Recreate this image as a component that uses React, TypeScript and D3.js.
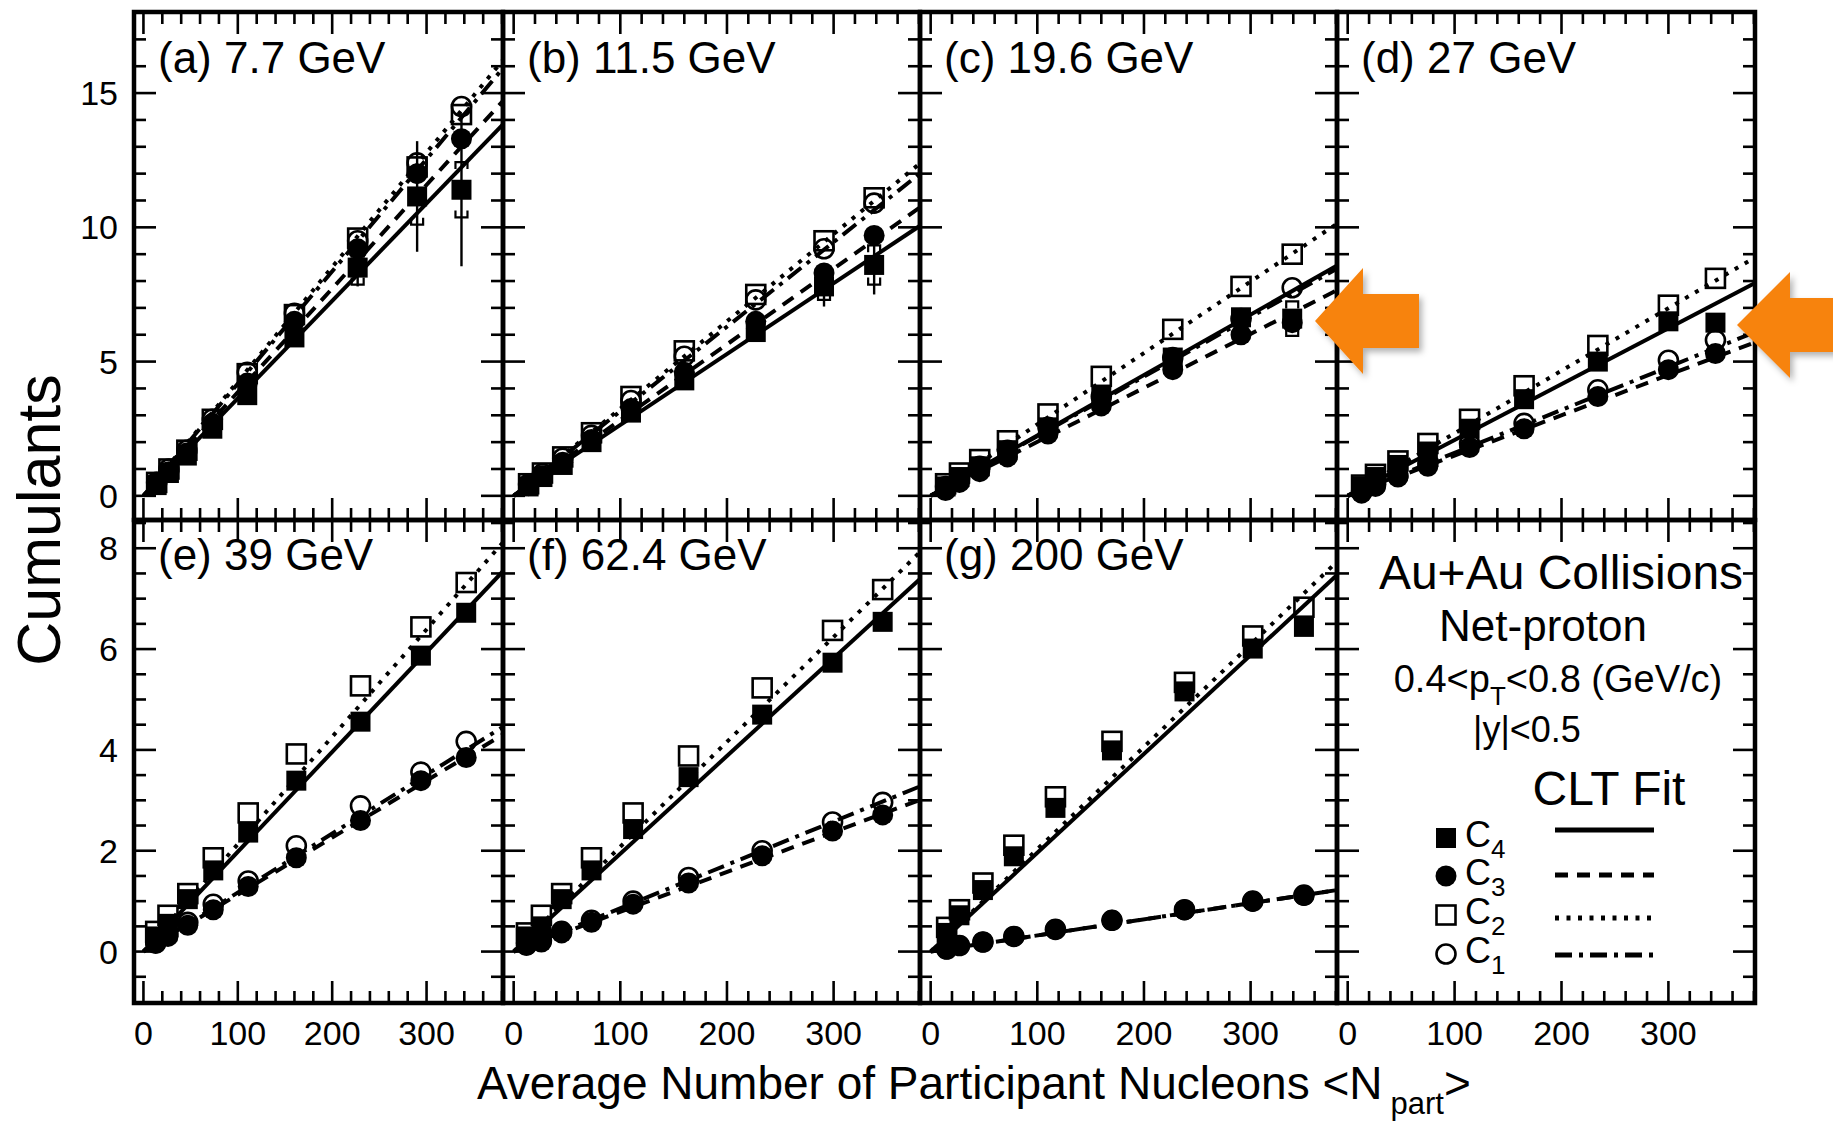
import React from "react";
import * as d3 from "d3";

const FONT = "'Liberation Sans', Arial, Helvetica, sans-serif";
const W = 1833;
const H = 1124;

// ---------------- data ----------------
const panelLabels = ["(a) 7.7 GeV", "(b) 11.5 GeV", "(c) 19.6 GeV", "(d) 27 GeV", "(e) 39 GeV", "(f) 62.4 GeV", "(g) 200 GeV"];

const npartA = [14, 27, 46, 73, 110, 160, 227, 290, 337];
const c4A = [0.4, 0.85, 1.5, 2.5, 3.75, 5.9, 8.5, 11.15, 11.4];
const c3A = [0.45, 0.9, 1.6, 2.7, 4.2, 6.5, 9.2, 12.0, 13.3];
const c2A = [0.5, 1.0, 1.7, 2.85, 4.55, 6.75, 9.6, 12.25, 14.2];
const c1A = [0.5, 1.0, 1.7, 2.85, 4.6, 6.8, 9.5, 12.4, 14.5];
const fitA = [0.0418, 0.0426, 0.0386, 0.0363]; // C1, C2, C3, C4 slopes
const c4ErrA = [0, 0, 0, 0, 0.1, 0.2, 0.7, 2.06, 2.85];
const c4SysA = [0, 0, 0, 0, 0, 0, 0.63, 1.05, 1.03];

const npartB = [14, 27, 46, 73, 110, 160, 227, 291, 338];
const c4B = [0.35, 0.7, 1.15, 2.0, 3.1, 4.3, 6.1, 7.8, 8.6];
const c3B = [0.38, 0.75, 1.25, 2.1, 3.25, 4.6, 6.5, 8.3, 9.7];
const c2B = [0.45, 0.85, 1.45, 2.35, 3.7, 5.4, 7.5, 9.5, 11.1];
const c1B = [0.43, 0.82, 1.4, 2.25, 3.55, 5.2, 7.3, 9.2, 10.9];
const fitB = [0.0315, 0.0325, 0.0282, 0.0264];
const c4ErrB = [0, 0, 0, 0, 0, 0.1, 0.3, 0.75, 1.1];
const c4SysB = [0, 0, 0, 0, 0, 0, 0, 0.5, 0.73];

const npartC = [14, 27, 46, 72, 110, 160, 227, 291, 339];
const c4C = [0.35, 0.7, 1.1, 1.7, 2.55, 3.75, 5.15, 6.65, 6.6];
const c3C = [0.2, 0.5, 0.9, 1.45, 2.3, 3.35, 4.7, 6.0, 6.45];
const c2C = [0.45, 0.85, 1.35, 2.05, 3.05, 4.45, 6.2, 7.8, 9.0];
const c1C = [0.35, 0.65, 1.1, 1.7, 2.55, 3.7, 5.15, 6.6, 7.75];
const fitC = [0.0222, 0.0266, 0.0201, 0.0225];
const c4ErrC = [0, 0, 0, 0, 0, 0, 0, 0, 0.3];
const c4SysC = [0, 0, 0, 0, 0, 0, 0, 0, 0.64];

const npartD = [13, 26, 47, 75, 114, 165, 234, 300, 344];
const c4D = [0.35, 0.7, 1.15, 1.65, 2.5, 3.6, 5.0, 6.5, 6.45];
const c3D = [0.1, 0.35, 0.7, 1.1, 1.8, 2.5, 3.7, 4.7, 5.3];
const c2D = [0.4, 0.8, 1.3, 1.95, 2.85, 4.1, 5.6, 7.1, 8.1];
const c1D = [0.15, 0.4, 0.75, 1.2, 1.95, 2.7, 3.95, 5.05, 5.8];
const fitD = [0.016, 0.0233, 0.015, 0.0208];

const npartE = [13, 26, 47, 74, 111, 162, 230, 294, 342];
const c4E = [0.3, 0.55, 1.04, 1.61, 2.36, 3.39, 4.56, 5.87, 6.72];
const c3E = [0.16, 0.3, 0.52, 0.83, 1.29, 1.86, 2.6, 3.39, 3.85];
const c2E = [0.4, 0.72, 1.15, 1.86, 2.75, 3.92, 5.27, 6.44, 7.32];
const c1E = [0.18, 0.35, 0.58, 0.94, 1.4, 2.1, 2.89, 3.56, 4.17];
const fitE = [0.0117, 0.0213, 0.0113, 0.0198];

const npartF = [12, 26, 45, 73, 112, 164, 233, 299, 346];
const c4F = [0.3, 0.5, 1.04, 1.61, 2.43, 3.46, 4.7, 5.73, 6.54];
const c3F = [0.12, 0.19, 0.37, 0.58, 0.94, 1.36, 1.9, 2.39, 2.71];
const c2F = [0.37, 0.72, 1.15, 1.86, 2.75, 3.88, 5.23, 6.37, 7.18];
const c1F = [0.14, 0.22, 0.4, 0.62, 1.0, 1.47, 2.0, 2.57, 2.96];
const fitF = [0.0086, 0.0208, 0.0079, 0.0194];

const npartG = [15, 27, 49, 78, 117, 170, 238, 302, 350];
const c4G = [0.37, 0.72, 1.22, 1.89, 2.85, 3.99, 5.16, 6.01, 6.44];
const c3G = [0.05, 0.12, 0.19, 0.3, 0.44, 0.62, 0.83, 1.0, 1.11];
const c2G = [0.48, 0.83, 1.36, 2.11, 3.07, 4.17, 5.34, 6.26, 6.83];
const c1G = [0.05, 0.12, 0.19, 0.3, 0.44, 0.62, 0.83, 1.0, 1.12];
const fitG = [0.0032, 0.0203, 0.0032, 0.0196];

const xMajorTicks = [0, 100, 200, 300];
const yTopMajorTicks = [0, 5, 10, 15];
const yBotMajorTicks = [0, 2, 4, 6, 8];
const xTickLabels = ["0", "100", "200", "300"];
const yTopTickLabels = ["15", "10", "5", "0"];
const yBotTickLabels = ["8", "6", "4", "2", "0"];

const legendNames = ["C4", "C3", "C2", "C1"];

// ---------------- layout ----------------
const X_DOMAIN = [-10, 381];
const Y_TOP = [-0.9, 18.02];
const Y_BOT = [-1.02, 8.56];
const COLS = [
  [134, 503],
  [503, 920],
  [920, 1337],
  [1337, 1755],
];
const ROWS = [
  [12, 520],
  [520, 1003],
];

const DASH = { solid: "none", dashed: "13 9", dotted: "4 7.5", dashdot: "17 7 4 7" };
const LINE_STYLE = [DASH.dashdot, DASH.dotted, DASH.dashed, DASH.solid]; // C1..C4

const panels = [
  { label: panelLabels[0], n: npartA, c: [c1A, c2A, c3A, c4A], fit: fitA, err: c4ErrA, sys: c4SysA },
  { label: panelLabels[1], n: npartB, c: [c1B, c2B, c3B, c4B], fit: fitB, err: c4ErrB, sys: c4SysB },
  { label: panelLabels[2], n: npartC, c: [c1C, c2C, c3C, c4C], fit: fitC, err: c4ErrC, sys: c4SysC },
  { label: panelLabels[3], n: npartD, c: [c1D, c2D, c3D, c4D], fit: fitD, err: null, sys: null },
  { label: panelLabels[4], n: npartE, c: [c1E, c2E, c3E, c4E], fit: fitE, err: null, sys: null },
  { label: panelLabels[5], n: npartF, c: [c1F, c2F, c3F, c4F], fit: fitF, err: null, sys: null },
  { label: panelLabels[6], n: npartG, c: [c1G, c2G, c3G, c4G], fit: fitG, err: null, sys: null },
];

function Marker({ kind, x, y }: { kind: number; x: number; y: number }) {
  // kind: 0 C1 open circle, 1 C2 open square, 2 C3 filled circle, 3 C4 filled square
  if (kind === 3) return <rect x={x - 10} y={y - 10} width={20} height={20} fill="#000" />;
  if (kind === 2) return <circle cx={x} cy={y} r={10.5} fill="#000" />;
  if (kind === 1)
    return <rect x={x - 9.5} y={y - 9.5} width={19} height={19} fill="none" stroke="#000" strokeWidth={2.6} />;
  return <circle cx={x} cy={y} r={9.5} fill="none" stroke="#000" strokeWidth={2.6} />;
}

function Frame({ col, row, idx }: { col: number; row: number; idx: number }) {
  const [x0, x1] = COLS[col];
  const [y0, y1] = ROWS[row];
  const xs = d3.scaleLinear().domain(X_DOMAIN).range([x0, x1]);
  const ys = d3.scaleLinear().domain(row === 0 ? Y_TOP : Y_BOT).range([y1, y0]);
  const xMinor = d3.range(0, 381, 20).filter((v) => !xMajorTicks.includes(v));
  const yMajor = row === 0 ? yTopMajorTicks : yBotMajorTicks;
  const yMinor =
    row === 0
      ? d3.range(0, 18.01, 1).filter((v) => !yMajor.includes(v))
      : d3.range(-0.5, 8.51, 0.5).filter((v) => !yMajor.includes(v));
  const MAJ = 22;
  const MIN = 12;
  const ticks: React.ReactNode[] = [];
  const tick = (k: string, xa: number, ya: number, xb: number, yb: number) =>
    ticks.push(<line key={k} x1={xa} y1={ya} x2={xb} y2={yb} stroke="#000" strokeWidth={2.6} />);
  xMajorTicks.forEach((v) => {
    tick(`xb${v}`, xs(v), y1, xs(v), y1 - MAJ);
    tick(`xt${v}`, xs(v), y0, xs(v), y0 + MAJ);
  });
  xMinor.forEach((v) => {
    tick(`xbm${v}`, xs(v), y1, xs(v), y1 - MIN);
    tick(`xtm${v}`, xs(v), y0, xs(v), y0 + MIN);
  });
  yMajor.forEach((v) => {
    tick(`yl${v}`, x0, ys(v), x0 + MAJ, ys(v));
    tick(`yr${v}`, x1, ys(v), x1 - MAJ, ys(v));
  });
  yMinor.forEach((v) => {
    tick(`ylm${v}`, x0, ys(v), x0 + MIN, ys(v));
    tick(`yrm${v}`, x1, ys(v), x1 - MIN, ys(v));
  });
  return (
    <g key={`frame${idx}`}>
      {ticks}
      <rect x={x0} y={y0} width={x1 - x0} height={y1 - y0} fill="none" stroke="#000" strokeWidth={4.5} />
      {row === 1 &&
        xMajorTicks.map((v, i) => (
          <text key={`xl${v}`} x={xs(v)} y={1045} fontSize={34} textAnchor="middle" fontFamily={FONT}>
            {xTickLabels[i]}
          </text>
        ))}
      {col === 0 &&
        (row === 0 ? yTopMajorTicks.slice().reverse() : yBotMajorTicks.slice().reverse()).map((v, i) => (
          <text key={`yl${v}`} x={118} y={ys(v) + 12} fontSize={34} textAnchor="end" fontFamily={FONT}>
            {(row === 0 ? yTopTickLabels : yBotTickLabels)[i]}
          </text>
        ))}
    </g>
  );
}

function Panel({ idx }: { idx: number }) {
  const p = panels[idx];
  const col = idx % 4;
  const row = Math.floor(idx / 4);
  const [x0, x1] = COLS[col];
  const [y0, y1] = ROWS[row];
  const xs = d3.scaleLinear().domain(X_DOMAIN).range([x0, x1]);
  const ys = d3.scaleLinear().domain(row === 0 ? Y_TOP : Y_BOT).range([y1, y0]);
  const line = d3.line<number[]>().x((d) => xs(d[0])).y((d) => ys(d[1]));
  const clipId = `clip${idx}`;
  const order = [3, 2, 1, 0];
  return (
    <g>
      <defs>
        <clipPath id={clipId}>
          <rect x={x0} y={y0} width={x1 - x0} height={y1 - y0} />
        </clipPath>
      </defs>
      <g clipPath={`url(#${clipId})`}>
        {p.fit.map((k, i) => (
          <path
            key={`fit${i}`}
            d={line([
              [0, 0],
              [X_DOMAIN[1] + 5, k * (X_DOMAIN[1] + 5)],
            ]) || ""}
            fill="none"
            stroke="#000"
            strokeWidth={4}
            strokeDasharray={LINE_STYLE[i]}
          />
        ))}
        {p.err &&
          p.n.map((n, j) =>
            p.err![j] > 0 ? (
              <line
                key={`err${j}`}
                x1={xs(n)}
                x2={xs(n)}
                y1={ys(p.c[3][j] - p.err![j])}
                y2={ys(p.c[3][j] + p.err![j])}
                stroke="#000"
                strokeWidth={2.4}
              />
            ) : null
          )}
        {p.sys &&
          p.n.map((n, j) =>
            p.sys![j] > 0 ? (
              <g key={`sys${j}`} fill="none" stroke="#000" strokeWidth={2.2}>
                <path
                  d={`M${xs(n) - 6},${ys(p.c[3][j] - p.sys![j]) - 7} V${ys(p.c[3][j] - p.sys![j])} H${xs(n) + 6} V${
                    ys(p.c[3][j] - p.sys![j]) - 7
                  }`}
                />
                <path
                  d={`M${xs(n) - 6},${ys(p.c[3][j] + p.sys![j]) + 7} V${ys(p.c[3][j] + p.sys![j])} H${xs(n) + 6} V${
                    ys(p.c[3][j] + p.sys![j]) + 7
                  }`}
                />
              </g>
            ) : null
          )}
        {order.map((k) =>
          p.n.map((n, j) => <Marker key={`m${k}-${j}`} kind={k} x={xs(n)} y={ys(p.c[k][j])} />)
        )}
      </g>
      <text x={x0 + 24} y={y0 + (row === 0 ? 61 : 50)} fontSize={44} fontFamily={FONT}>
        {p.label}
      </text>
    </g>
  );
}

function Legend() {
  const markerX = 1446;
  const labelX = 1465;
  const lineX0 = 1555;
  const lineX1 = 1654;
  const markerY = [838, 876, 915, 954];
  const lineY = [830, 875, 918, 955];
  const kinds = [3, 2, 1, 0];
  const styles = [DASH.solid, DASH.dashed, DASH.dotted, DASH.dashdot];
  return (
    <g fontFamily={FONT}>
      <text x={1561} y={589} fontSize={48} textAnchor="middle">
        Au+Au Collisions
      </text>
      <text x={1543} y={641} fontSize={44} textAnchor="middle">
        Net-proton
      </text>
      <text x={1558} y={692} fontSize={38} textAnchor="middle">
        0.4&lt;p<tspan dy={13} fontSize={26}>T</tspan>
        <tspan dy={-13}>&lt;0.8 (GeV/c)</tspan>
      </text>
      <text x={1527} y={742} fontSize={36} textAnchor="middle">
        |y|&lt;0.5
      </text>
      <text x={1609} y={805} fontSize={48} textAnchor="middle">
        CLT Fit
      </text>
      {legendNames.map((nm, i) => (
        <g key={nm}>
          <Marker kind={kinds[i]} x={markerX} y={markerY[i]} />
          <text x={labelX} y={markerY[i] + 9} fontSize={36}>
            {nm[0]}
            <tspan dy={11} fontSize={26}>
              {nm.slice(1)}
            </tspan>
          </text>
          <line
            x1={lineX0}
            x2={lineX1}
            y1={lineY[i]}
            y2={lineY[i]}
            stroke="#000"
            strokeWidth={5}
            strokeDasharray={styles[i]}
          />
        </g>
      ))}
    </g>
  );
}

function Arrow({ tipX, tipY, baseX, headHalf, shaftHalf, endX }: any) {
  const pts = [
    [tipX, tipY],
    [baseX, tipY - headHalf],
    [baseX, tipY - shaftHalf],
    [endX, tipY - shaftHalf],
    [endX, tipY + shaftHalf],
    [baseX, tipY + shaftHalf],
    [baseX, tipY + headHalf],
  ];
  return <polygon points={pts.map((p) => p.join(",")).join(" ")} fill="#F7830F" filter="url(#shadow)" />;
}

export default function App() {
  return (
    <svg
      width={W}
      height={H}
      viewBox={`0 0 ${W} ${H}`}
      style={{ position: "absolute", left: 0, top: 0, background: "#fff" }}
    >
      <defs>
        <filter id="shadow" x="-20%" y="-20%" width="150%" height="150%">
          <feDropShadow dx={3} dy={4} stdDeviation={3} floodColor="#000" floodOpacity={0.3} />
        </filter>
      </defs>
      <rect x={0} y={0} width={W} height={H} fill="#fff" />
      {panels.map((_, i) => (
        <Panel key={i} idx={i} />
      ))}
      <Legend />
      {[0, 1, 2, 3, 4, 5, 6, 7].map((i) => (
        <Frame key={i} col={i % 4} row={Math.floor(i / 4)} idx={i} />
      ))}
      <text
        transform="translate(60,520) rotate(-90)"
        fontSize={61}
        textAnchor="middle"
        fontFamily={FONT}
      >
        Cumulants
      </text>
      <text x={477} y={1099} fontSize={46} fontFamily={FONT}>
        Average Number of Participant Nucleons &lt;N
        <tspan dx={8} dy={15} fontSize={31}>
          part
        </tspan>
        <tspan dy={-15}>&gt;</tspan>
      </text>
      <Arrow tipX={1315} tipY={321} baseX={1363} headHalf={53} shaftHalf={27} endX={1419} />
      <Arrow tipX={1737} tipY={325} baseX={1790} headHalf={53} shaftHalf={27} endX={1840} />
    </svg>
  );
}
